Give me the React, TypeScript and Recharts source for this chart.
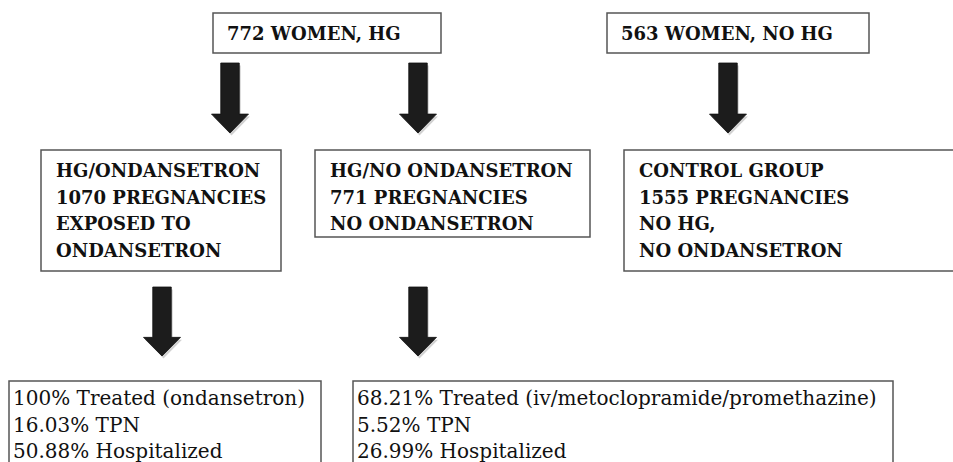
import React from 'react';
import { ComposedChart, XAxis, YAxis, ReferenceArea } from 'recharts';

// Flow chart text (cohorts -> groups -> outcomes)
const cohortLabels = ['772 WOMEN, HG', '563 WOMEN, NO HG'];

const groupLines = [
    ['HG/ONDANSETRON', '1070 PREGNANCIES', 'EXPOSED TO', 'ONDANSETRON'],
    ['HG/NO ONDANSETRON', '771 PREGNANCIES', 'NO ONDANSETRON'],
    ['CONTROL GROUP', '1555 PREGNANCIES', 'NO HG,', 'NO ONDANSETRON'],
];

const outcomeLines = [
    ['100% Treated (ondansetron)', '16.03% TPN', '50.88% Hospitalized'],
    ['68.21% Treated (iv/metoclopramide/promethazine)', '5.52% TPN', '26.99% Hospitalized'],
];

// Layout in page units (x: 0..953, y: 0..462 from top)
const cohortBoxes = [
    { x1: 213, x2: 441, y1: 13, y2: 53 },
    { x1: 607, x2: 869, y1: 13, y2: 53 },
];
const groupBoxes = [
    { x1: 41, x2: 281, y1: 150, y2: 271 },
    { x1: 315, x2: 590, y1: 150, y2: 237 },
    { x1: 624, x2: 990, y1: 150, y2: 271 },
];
const outcomeBoxes = [
    { x1: 9, x2: 321, y1: 381, y2: 480 },
    { x1: 353, x2: 893, y1: 381, y2: 480 },
];
const arrows = [
    { cx: 230, y1: 63, y2: 133 },
    { cx: 418, y1: 63, y2: 133 },
    { cx: 728, y1: 63, y2: 133 },
    { cx: 162, y1: 287, y2: 356 },
    { cx: 418, y1: 287, y2: 356 },
];

const W = 953;
const H = 462;
const BOLD_FONT = '"DejaVu Serif", serif';
const REG_FONT = '"DejaVu Serif", serif';

const boxShape = (lines: string[], opts: { padX: number; firstBase: number; pitch: number; size: number; bold: boolean }) =>
    (props: any) => {
        const { x, y, width, height } = props;
        return (
            <g>
                <rect x={x} y={y} width={width} height={height} fill="#fff" stroke="#555" strokeWidth={1.5} />
                {lines.map((line, i) => (
                    <text
                        key={i}
                        x={x + opts.padX}
                        y={y + opts.firstBase + i * opts.pitch}
                        fontFamily={opts.bold ? BOLD_FONT : REG_FONT}
                        fontWeight={opts.bold ? 700 : 400}
                        fontSize={opts.size}
                        fill="#111"
                    >
                        {line}
                    </text>
                ))}
            </g>
        );
    };

const arrowShape = (props: any) => {
    const { x, y, width, height } = props;
    const cx = x + width / 2;
    const shaftHalf = width * 0.25;
    const headY = y + height * 0.73;
    const pts = [
        [cx - shaftHalf, y],
        [cx + shaftHalf, y],
        [cx + shaftHalf, headY],
        [x + width, headY],
        [cx, y + height],
        [x, headY],
        [cx - shaftHalf, headY],
    ].map((p) => p.join(',')).join(' ');
    return (
        <g>
            <polygon points={pts} fill="#000" opacity={0.18} transform="translate(1.5,2.5)" />
            <polygon points={pts} fill="#1c1c1c" stroke="#111" strokeWidth={0.8} />
        </g>
    );
};

export default function App() {
    return (
        <div style={{ position: 'absolute', left: 0, top: 0, background: '#fff' }}>
            <ComposedChart width={W} height={H} data={[]} margin={{ top: 0, right: 0, bottom: 0, left: 0 }}>
                <XAxis type="number" dataKey="x" domain={[0, W]} hide allowDataOverflow />
                <YAxis type="number" dataKey="y" domain={[0, H]} reversed hide allowDataOverflow />

                {arrows.map((a, i) => (
                    <ReferenceArea
                        key={`arrow-${i}`}
                        x1={a.cx - 18.5}
                        x2={a.cx + 18.5}
                        y1={a.y1}
                        y2={a.y2}
                        ifOverflow="visible"
                        shape={arrowShape}
                    />
                ))}

                {cohortLabels.map((label, i) => (
                    <ReferenceArea
                        key={`cohort-${i}`}
                        {...cohortBoxes[i]}
                        ifOverflow="visible"
                        shape={boxShape([label], { padX: 14, firstBase: 27, pitch: 0, size: 18, bold: true })}
                    />
                ))}

                {groupLines.map((lines, i) => (
                    <ReferenceArea
                        key={`group-${i}`}
                        {...groupBoxes[i]}
                        ifOverflow="visible"
                        shape={boxShape(lines, { padX: 15, firstBase: 27, pitch: 26.7, size: 18, bold: true })}
                    />
                ))}

                {outcomeLines.map((lines, i) => (
                    <ReferenceArea
                        key={`outcome-${i}`}
                        {...outcomeBoxes[i]}
                        ifOverflow="visible"
                        shape={boxShape(lines, { padX: 4, firstBase: 24, pitch: 26.5, size: 20, bold: false })}
                    />
                ))}
            </ComposedChart>
        </div>
    );
}
